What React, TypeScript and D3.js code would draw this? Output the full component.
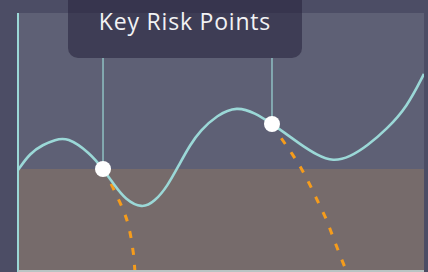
import React from 'react'
import * as d3 from 'd3'

// main curve (x 0..100, y 0..100)
const curveX = [0, 2.96, 6.16, 9.11, 12.07, 17.73, 20.94, 23.89, 26.35, 30.54, 33.74, 36.7, 39.9, 42.36, 44.83, 49.01, 53.94, 58.37, 62.56, 65.76, 69.46, 73.65, 77.59, 81.77, 85.96, 90.89, 95.81, 100]
const curveY = [38.9, 45.5, 48.8, 50.6, 51.8, 45.5, 39.3, 32.7, 27.6, 23.8, 26.8, 32.3, 41.6, 48.6, 54.1, 60.3, 63.7, 61.1, 56.8, 53.3, 49.0, 44.7, 42.2, 44.0, 48.2, 54.9, 63.4, 76.3]

const threshold = 39.3

// key risk points
const riskX = [20.94, 62.56]
const riskY = [39.3, 56.8]

// projected drops from each risk point
const dropAX = [20.94, 22.7, 24.6, 26.1, 27.1, 27.8, 28.3, 28.6, 28.8]
const dropAY = [39.3, 34.2, 28.0, 22.6, 17.9, 12.8, 7.8, 3.9, -0.8]
const dropBX = [62.56, 64.8, 67.2, 69.7, 71.9, 73.9, 75.9, 77.6, 79.3, 81.0]
const dropBY = [56.8, 51.4, 45.9, 39.7, 33.1, 26.5, 19.8, 12.8, 5.8, -0.8]

const title = 'Key Risk Points'

export default function App() {
    const W = 428
    const H = 272
    const left = 18, right = 424, top = 13, bottom = 270

    const x = d3.scaleLinear().domain([0, 100]).range([left, right])
    const y = d3.scaleLinear().domain([0, 100]).range([bottom, top])

    const line = d3.line<[number, number]>()
        .x(d => x(d[0]))
        .y(d => y(d[1]))

    const main = line.curve(d3.curveBasis)(curveX.map((v, i) => [v, curveY[i]]))
    const dropA = line.curve(d3.curveMonotoneX)(dropAX.map((v, i) => [v, dropAY[i]]))
    const dropB = line.curve(d3.curveMonotoneX)(dropBX.map((v, i) => [v, dropBY[i]]))

    const teal = '#9bd8d7'
    const boxX = 68, boxW = 234, boxBottom = 58

    return (
        <div style={{ position: 'fixed', left: 0, top: 0 }}>
            <svg width={W} height={H} style={{ display: 'block' }}>
                <defs>
                    <clipPath id="plot">
                        <rect x={left} y={top} width={right - left} height={H - top} />
                    </clipPath>
                </defs>
                <rect width={W} height={H} fill="#4c4d65" />
                <rect x={left} y={top} width={right - left} height={H - top} fill="#5e6075" />
                <rect x={left} y={y(threshold)} width={right - left} height={H - y(threshold)} fill="#766b6b" />

                <g clipPath="url(#plot)">
                    <path d={dropA || ''} fill="none" stroke="#f59c1c" strokeWidth={3} strokeDasharray="7,10" />
                    <path d={dropB || ''} fill="none" stroke="#f59c1c" strokeWidth={3} strokeDasharray="7,10" />
                    <path d={main || ''} fill="none" stroke={teal} strokeWidth={2.6} />
                </g>

                {riskX.map((v, i) => (
                    <line key={'c' + i} x1={x(v)} x2={x(v)} y1={boxBottom} y2={y(riskY[i])} stroke={teal} strokeWidth={1.2} />
                ))}
                {riskX.map((v, i) => (
                    <circle key={'p' + i} cx={x(v)} cy={y(riskY[i])} r={8} fill="#ffffff" />
                ))}

                <line x1={left} x2={left} y1={top} y2={H} stroke={teal} strokeWidth={2} />
                <line x1={left} x2={right} y1={271} y2={271} stroke="#b9c3c3" strokeWidth={2} />

                <rect x={boxX} y={-12} width={boxW} height={boxBottom + 12} rx={10} fill="#2a2640" fillOpacity={0.6} />
                <text x={boxX + boxW / 2} y={30} textAnchor="middle" fill="#f2f2f4" letterSpacing={0.8}
                    style={{ font: '23px "Open Sans", sans-serif' }}>{title}</text>
            </svg>
        </div>
    )
}
